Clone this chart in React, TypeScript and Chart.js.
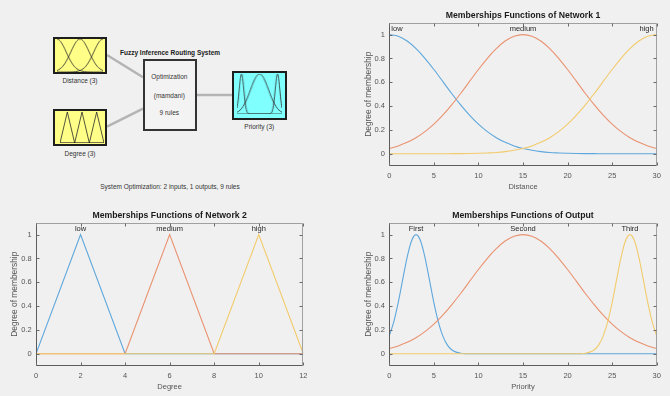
import React, { useEffect, useRef } from "react";
import { Chart, registerables } from "chart.js";

Chart.register(...registerables);

const FONT = "'Liberation Sans', Arial, Helvetica, sans-serif";

// ---------- Network 1 : Distance ----------
const distanceX = [0, 1, 2, 3, 4, 5, 6, 7, 8, 9, 10, 11, 12, 13, 14, 15, 16, 17, 18, 19, 20, 21, 22, 23, 24, 25, 26, 27, 28, 29, 30];
const distanceLow = [1, 0.986, 0.946, 0.882, 0.801, 0.707, 0.607, 0.506, 0.411, 0.325, 0.249, 0.186, 0.135, 0.096, 0.066, 0.044, 0.029, 0.018, 0.011, 0.007, 0.004, 0.002, 0.001, 0.001, 0, 0, 0, 0, 0, 0, 0];
const distanceMedium = [0.044, 0.066, 0.096, 0.135, 0.186, 0.249, 0.325, 0.411, 0.506, 0.607, 0.707, 0.801, 0.882, 0.946, 0.986, 1, 0.986, 0.946, 0.882, 0.801, 0.707, 0.607, 0.506, 0.411, 0.325, 0.249, 0.186, 0.135, 0.096, 0.066, 0.044];
const distanceHigh = [0, 0, 0, 0, 0, 0, 0, 0.001, 0.001, 0.002, 0.004, 0.007, 0.011, 0.018, 0.029, 0.044, 0.066, 0.096, 0.135, 0.186, 0.249, 0.325, 0.411, 0.506, 0.607, 0.707, 0.801, 0.882, 0.946, 0.986, 1];
const distanceLabels = ["low", "medium", "high"];
const distanceTicks = [0, 5, 10, 15, 20, 25, 30];

// ---------- Network 2 : Degree ----------
const degreeLowX = [0, 2, 4, 12];
const degreeLowY = [0, 1, 0, 0];
const degreeMediumX = [0, 4, 6, 8, 12];
const degreeMediumY = [0, 0, 1, 0, 0];
const degreeHighX = [0, 8, 10, 12];
const degreeHighY = [0, 0, 1, 0];
const degreeLabels = ["low", "medium", "high"];
const degreeTicks = [0, 2, 4, 6, 8, 10, 12];

// ---------- Output : Priority ----------
const priorityFirstX = [0, 0.5, 1, 1.5, 2, 2.5, 3, 3.5, 4, 4.5, 5, 5.5, 6, 6.5, 7, 7.5, 8, 9, 30];
const priorityFirstY = [0.15, 0.268, 0.43, 0.622, 0.81, 0.949, 1, 0.949, 0.81, 0.622, 0.43, 0.268, 0.15, 0.075, 0.034, 0.014, 0.005, 0, 0];
const prioritySecondX = [0, 1, 2, 3, 4, 5, 6, 7, 8, 9, 10, 11, 12, 13, 14, 15, 16, 17, 18, 19, 20, 21, 22, 23, 24, 25, 26, 27, 28, 29, 30];
const prioritySecondY = [0.044, 0.066, 0.096, 0.135, 0.186, 0.249, 0.325, 0.411, 0.506, 0.607, 0.707, 0.801, 0.882, 0.946, 0.986, 1, 0.986, 0.946, 0.882, 0.801, 0.707, 0.607, 0.506, 0.411, 0.325, 0.249, 0.186, 0.135, 0.096, 0.066, 0.044];
const priorityThirdX = [0, 21, 22, 22.5, 23, 23.5, 24, 24.5, 25, 25.5, 26, 26.5, 27, 27.5, 28, 28.5, 29, 29.5, 30];
const priorityThirdY = [0, 0, 0.005, 0.014, 0.034, 0.075, 0.15, 0.268, 0.43, 0.622, 0.81, 0.949, 1, 0.949, 0.81, 0.622, 0.43, 0.268, 0.15];
const priorityLabels = ["First", "Second", "Third"];
const priorityTicks = [0, 5, 10, 15, 20, 25, 30];

const membershipTicks = [0, 0.2, 0.4, 0.6, 0.8, 1];

const seriesColors = ["#5ea7dc", "#ea9270", "#f2cb6c"];
const TICK_COLOR = "#555555";

type Series = { x: number[]; y: number[] };

type PanelProps = {
  left: number;
  top: number;
  width: number;
  height: number;
  area: { l: number; t: number; r: number; b: number };
  title: string;
  xTitle: string;
  xMin: number;
  xMax: number;
  xTicks: number[];
  series: Series[];
  labels: string[];
  smooth: boolean;
  yTitleX: number;
  xTitleY: number;
};

function Panel(p: PanelProps) {
  const ref = useRef<HTMLCanvasElement | null>(null);
  useEffect(() => {
    if (!ref.current) return;
    const frame = {
      id: "frame",
      afterDraw(chart: any) {
        const { ctx, chartArea: a } = chart;
        const xs = chart.scales.x;
        const ys = chart.scales.y;
        const L = Math.round(a.left) + 0.5;
        const R = Math.round(a.right) - 0.5;
        const T = Math.round(a.top) + 0.5;
        const B = Math.round(a.bottom) - 0.5;
        ctx.save();
        ctx.lineWidth = 1;
        ctx.strokeStyle = "#a0a0a0";
        ctx.beginPath();
        ctx.moveTo(L, T);
        ctx.lineTo(R, T);
        ctx.lineTo(R, B);
        ctx.stroke();
        ctx.strokeStyle = "#5c5c5c";
        ctx.beginPath();
        ctx.moveTo(L, T);
        ctx.lineTo(L, B);
        ctx.lineTo(R, B);
        ctx.stroke();
        ctx.strokeStyle = "#6a6a6a";
        ctx.beginPath();
        xs.ticks.forEach((t: any) => {
          const px = Math.round(xs.getPixelForValue(t.value)) + 0.5;
          ctx.moveTo(px, B);
          ctx.lineTo(px, B - 3);
          ctx.moveTo(px, T);
          ctx.lineTo(px, T + 3);
        });
        ys.ticks.forEach((t: any) => {
          const py = Math.round(ys.getPixelForValue(t.value)) + 0.5;
          ctx.moveTo(L, py);
          ctx.lineTo(L + 3, py);
          ctx.moveTo(R, py);
          ctx.lineTo(R - 3, py);
        });
        ctx.stroke();
        // title
        ctx.fillStyle = "#1a1a1a";
        ctx.font = `bold 8.7px ${FONT}`;
        ctx.textAlign = "center";
        ctx.textBaseline = "middle";
        ctx.fillText(p.title, (a.left + a.right) / 2, a.top - 7.4);
        // membership labels
        ctx.font = `7.5px ${FONT}`;
        ctx.fillStyle = "#262626";
        const ly = ys.getPixelForValue(1) - 5.3;
        p.series.forEach((s, i) => {
          let k = 0;
          s.y.forEach((v, j) => {
            if (v > s.y[k]) k = j;
          });
          const w = ctx.measureText(p.labels[i]).width;
          let cx = xs.getPixelForValue(s.x[k]);
          cx = Math.max(a.left + 2 + w / 2, Math.min(a.right - 3 - w / 2, cx));
          ctx.fillText(p.labels[i], cx, ly);
        });
        ctx.restore();
      },
    };
    const tickFont = { family: FONT, size: 7.5 };
    const yTitleFont = { family: FONT, size: 8.4 };
    const chart = new Chart(ref.current, {
      type: "line",
      data: {
        datasets: p.series.map((s, i) => ({
          data: s.x.map((x, j) => ({ x, y: s.y[j] })),
          borderColor: seriesColors[i],
          backgroundColor: seriesColors[i],
          borderWidth: 1.1,
          pointRadius: 0,
          fill: false,
          order: 3 - i,
          tension: 0,
          cubicInterpolationMode: p.smooth ? "monotone" : "default",
        })),
      },
      options: {
        animation: false,
        responsive: false,
        maintainAspectRatio: false,
        devicePixelRatio: 1,
        events: [],
        layout: { padding: { left: 0, top: p.area.t, right: p.width - p.area.r, bottom: 0 } },
        plugins: { legend: { display: false }, tooltip: { enabled: false }, title: { display: false } },
        scales: {
          x: {
            type: "linear",
            min: p.xMin,
            max: p.xMax,
            grid: { display: false, drawTicks: false },
            border: { display: false },
            afterBuildTicks: (ax: any) => {
              ax.ticks = p.xTicks.map((v) => ({ value: v }));
            },
            afterFit: (ax: any) => {
              ax.height = p.height - p.area.b;
            },
            ticks: {
              padding: 5.8,
              color: TICK_COLOR,
              font: tickFont,
              autoSkip: false,
              maxRotation: 0,
              callback: (v: any) => String(v),
            },
            title: {
              display: true,
              text: p.xTitle,
              color: TICK_COLOR,
              font: tickFont,
              padding: { top: 0, bottom: p.height - p.xTitleY - 4.5 },
            },
          },
          y: {
            type: "linear",
            min: -0.1,
            max: 1.1,
            grid: { display: false, drawTicks: false },
            border: { display: false },
            afterBuildTicks: (ax: any) => {
              ax.ticks = membershipTicks.map((v) => ({ value: v }));
            },
            afterFit: (ax: any) => {
              ax.width = p.area.l;
            },
            ticks: {
              padding: 4.3,
              color: TICK_COLOR,
              font: tickFont,
              autoSkip: false,
              callback: (v: any) => String(v),
            },
            title: {
              display: true,
              text: "Degree of membership",
              color: TICK_COLOR,
              font: yTitleFont,
              padding: { top: p.yTitleX - 5, bottom: 0 },
            },
          },
        },
      },
      plugins: [frame],
    } as any);
    return () => chart.destroy();
  }, []);
  return (
    <canvas
      ref={ref}
      width={p.width}
      height={p.height}
      style={{ position: "absolute", left: p.left, top: p.top, width: p.width, height: p.height }}
    />
  );
}

type MiniProps = {
  left: number;
  top: number;
  width: number;
  height: number;
  xMin: number;
  xMax: number;
  series: Series[];
  smooth: boolean;
};

function MiniChart(p: MiniProps) {
  const ref = useRef<HTMLCanvasElement | null>(null);
  useEffect(() => {
    if (!ref.current) return;
    const chart = new Chart(ref.current, {
      type: "line",
      data: {
        datasets: p.series.map((s) => ({
          data: s.x.map((x, j) => ({ x, y: s.y[j] })),
          borderColor: "#2a2a2a",
          borderWidth: 0.8,
          pointRadius: 0,
          fill: false,
          tension: 0,
          cubicInterpolationMode: p.smooth ? "monotone" : "default",
        })),
      },
      options: {
        animation: false,
        responsive: false,
        maintainAspectRatio: false,
        devicePixelRatio: 1,
        events: [],
        layout: { padding: 1 },
        plugins: { legend: { display: false }, tooltip: { enabled: false } },
        scales: {
          x: { type: "linear", display: false, min: p.xMin, max: p.xMax },
          y: { type: "linear", display: false, min: 0, max: 1 },
        },
      },
    } as any);
    return () => chart.destroy();
  }, []);
  return (
    <canvas
      ref={ref}
      width={p.width}
      height={p.height}
      style={{ position: "absolute", left: p.left, top: p.top, width: p.width, height: p.height }}
    />
  );
}

function Label(props: { x: number; y: number; text: string; bold?: boolean; size?: number; color?: string }) {
  return (
    <div
      style={{
        position: "absolute",
        left: props.x,
        top: props.y,
        transform: "translate(-50%, -50%)",
        whiteSpace: "nowrap",
        fontFamily: FONT,
        fontSize: props.size ?? 6.5,
        fontWeight: props.bold ? "bold" : "normal",
        color: props.color ?? "#333",
        lineHeight: 1,
      }}
    >
      {props.text}
    </div>
  );
}

function Box(props: { left: number; top: number; width: number; height: number; bg: string; border: string }) {
  return (
    <div
      style={{
        position: "absolute",
        left: props.left,
        top: props.top,
        width: props.width,
        height: props.height,
        boxSizing: "border-box",
        border: `2px solid ${props.border}`,
        background: props.bg,
      }}
    />
  );
}

const distanceSeries: Series[] = [
  { x: distanceX, y: distanceLow },
  { x: distanceX, y: distanceMedium },
  { x: distanceX, y: distanceHigh },
];
const degreeSeries: Series[] = [
  { x: degreeLowX, y: degreeLowY },
  { x: degreeMediumX, y: degreeMediumY },
  { x: degreeHighX, y: degreeHighY },
];
const prioritySeries: Series[] = [
  { x: priorityFirstX, y: priorityFirstY },
  { x: prioritySecondX, y: prioritySecondY },
  { x: priorityThirdX, y: priorityThirdY },
];

export default function App() {
  return (
    <div
      style={{
        position: "fixed",
        left: 0,
        top: 0,
        width: 670,
        height: 396,
        background: "#f0f0f0",
        overflow: "hidden",
      }}
    >
      {/* FIS diagram */}
      <svg width={300} height={200} style={{ position: "absolute", left: 0, top: 0 }}>
        <line x1={107} y1={55} x2={143} y2={77.3} stroke="#b4b4b4" strokeWidth={2.5} />
        <line x1={107} y1={126.7} x2={143} y2={108.7} stroke="#b4b4b4" strokeWidth={2.5} />
        <line x1={197} y1={95} x2={233} y2={95} stroke="#b4b4b4" strokeWidth={2.5} />
      </svg>
      <Box left={52.7} top={36.7} width={54.6} height={37.3} bg="#ffff88" border="#1e1e1e" />
      <Box left={52.7} top={108.7} width={54.6} height={37.3} bg="#ffff88" border="#1e1e1e" />
      <Box left={232.3} top={70.7} width={54.4} height={49.3} bg="#80ffff" border="#1e1e1e" />
      <Box left={142.7} top={58.7} width={54.6} height={72.6} bg="#f3f3f3" border="#333333" />
      <MiniChart left={55.7} top={38.3} width={48.6} height={34.4} xMin={0} xMax={30} series={distanceSeries} smooth={true} />
      <MiniChart left={58.5} top={110.7} width={46} height={33.6} xMin={0} xMax={12} series={degreeSeries} smooth={false} />
      <MiniChart left={236.2} top={73} width={46.5} height={42} xMin={0} xMax={30} series={prioritySeries} smooth={true} />
      <Label x={170} y={52.7} text="Fuzzy Inference Routing System" bold color="#1a1a1a" />
      <Label x={169.3} y={77} text="Optimization" />
      <Label x={169.3} y={95.7} text="(mamdani)" />
      <Label x={169.3} y={112.7} text="9 rules" />
      <Label x={80} y={81.3} text="Distance (3)" />
      <Label x={80} y={154.3} text="Degree (3)" />
      <Label x={259.3} y={127.3} text="Priority (3)" />
      <Label x={170} y={186.7} text="System Optimization: 2 inputs, 1 outputs, 9 rules" />

      <Panel
        left={335}
        top={0}
        width={335}
        height={198}
        area={{ l: 54.3, t: 22.7, r: 321.7, b: 165.7 }}
        title="Memberships Functions of Network 1"
        xTitle="Distance"
        xMin={0}
        xMax={30}
        xTicks={distanceTicks}
        series={distanceSeries}
        labels={distanceLabels}
        smooth={true}
        yTitleX={33.3}
        xTitleY={187}
      />
      <Panel
        left={0}
        top={198}
        width={335}
        height={198}
        area={{ l: 36, t: 24.7, r: 303.3, b: 167.7 }}
        title="Memberships Functions of Network 2"
        xTitle="Degree"
        xMin={0}
        xMax={12}
        xTicks={degreeTicks}
        series={degreeSeries}
        labels={degreeLabels}
        smooth={false}
        yTitleX={15}
        xTitleY={189.3}
      />
      <Panel
        left={335}
        top={198}
        width={335}
        height={198}
        area={{ l: 54.3, t: 24.7, r: 321.7, b: 167.7 }}
        title="Memberships Functions of Output"
        xTitle="Priority"
        xMin={0}
        xMax={30}
        xTicks={priorityTicks}
        series={prioritySeries}
        labels={priorityLabels}
        smooth={true}
        yTitleX={33.3}
        xTitleY={189.3}
      />
    </div>
  );
}
